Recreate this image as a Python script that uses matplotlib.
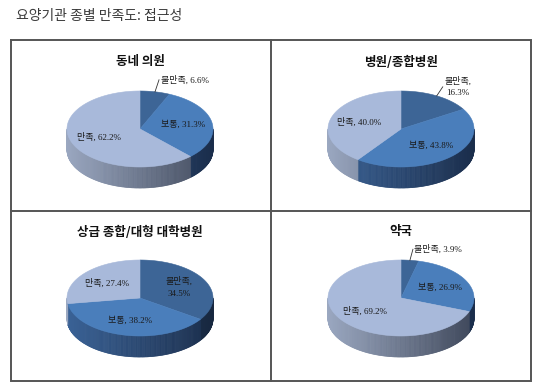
import numpy as np
import matplotlib
matplotlib.use('Agg')
import matplotlib.pyplot as plt
from matplotlib.patches import Polygon
from matplotlib.collections import PolyCollection
from matplotlib.colors import to_rgb

plt.rcParams['font.family'] = ['Noto Sans CJK KR', 'DejaVu Sans']

# ---------------- data ----------------
chart_title = '요양기관 종별 만족도: 접근성'
categories = ['불만족', '보통', '만족']
panel_titles = ['동네 의원', '병원/종합병원', '상급 종합/대형 대학병원', '약국']
clinic = [6.6, 31.3, 62.2]
hospital = [16.3, 43.8, 40.0]
tertiary = [34.5, 38.2, 27.4]
pharmacy = [3.9, 26.9, 69.2]

# ---------------- style ----------------
top_colors = ['#3D6596', '#4A7EBB', '#A8B9DA']
side_left = ['#34547F', '#3A6296', '#9AA7C0']
side_right = ['#17273F', '#1A2D4B', '#3E475A']
label_font = ['Liberation Serif', 'Noto Sans CJK KR']

W, H = 539, 387
fig = plt.figure(figsize=(W / 100, H / 100), dpi=100)
ax = fig.add_axes([0, 0, 1, 1])
ax.set_xlim(0, W)
ax.set_ylim(H, 0)
ax.axis('off')

# frame
L, T, R, B = 10.5, 40, 531, 381
VD, HD = 271, 211
fc = '#555555'
ax.plot([L, R, R, L, L], [T, T, B, B, T], color=fc, lw=1.4, solid_joinstyle='miter')
ax.plot([VD, VD], [T, B], color=fc, lw=1.4)
ax.plot([L, R], [HD, HD], color=fc, lw=1.4)

ax.text(16, 16, chart_title, fontsize=10, color='#3a3a3a', va='center', ha='left')

RX, RY, DEPTH = 73, 38, 21

# layout per panel: pie centre, title y, outside-label indices with leader vectors, wrapped labels
panels = [
    dict(vals=clinic, title=panel_titles[0], cx=140, cy=129, ty=62,
         outside={0: (4, -12)}, wrap=set()),
    dict(vals=hospital, title=panel_titles[1], cx=401, cy=129, ty=62,
         outside={0: (6, -9)}, wrap={0}),
    dict(vals=tertiary, title=panel_titles[2], cx=140, cy=298, ty=232,
         outside={}, wrap={0}),
    dict(vals=pharmacy, title=panel_titles[3], cx=401, cy=298, ty=232,
         outside={0: (3, -11)}, wrap=set()),
]


def pt(cx, cy, phi):
    r = np.radians(phi)
    return cx + RX * np.sin(r), cy - RY * np.cos(r)


for p in panels:
    vals = np.array(p['vals'], dtype=float)
    cx, cy = p['cx'], p['cy']
    fr = vals / vals.sum()
    edges = np.concatenate([[0], np.cumsum(fr)]) * 360.0

    # side walls
    for i in range(len(vals)):
        a, b = edges[i], edges[i + 1]
        lo, hi = max(a, 90.0), min(b, 270.0)
        if lo >= hi:
            continue
        n = max(2, int((hi - lo) / 1.0) + 1)
        phis = np.linspace(lo, hi, n)
        polys, cols = [], []
        cl, cr = np.array(to_rgb(side_left[i])), np.array(to_rgb(side_right[i]))
        for j in range(n - 1):
            x1, y1 = pt(cx, cy, phis[j])
            x2, y2 = pt(cx, cy, phis[j + 1])
            polys.append([(x1, y1), (x2, y2), (x2, y2 + DEPTH), (x1, y1 + DEPTH)])
            t = (0.5 * (x1 + x2) - (cx - RX)) / (2 * RX)
            t = min(max(t, 0), 1)
            cols.append(tuple(cl * (1 - t) + cr * t))
        ax.add_collection(PolyCollection(polys, facecolors=cols, edgecolors=cols, linewidths=0.5))

    # top face
    for i in range(len(vals)):
        a, b = edges[i], edges[i + 1]
        phis = np.linspace(a, b, max(3, int(b - a) + 2))
        xs, ys = pt(cx, cy, phis)
        verts = [(cx, cy)] + list(zip(xs, ys))
        ax.add_patch(Polygon(verts, closed=True, facecolor=top_colors[i],
                             edgecolor=top_colors[i], lw=0.4))

    # title
    ax.text(cx, p['ty'], p['title'], fontsize=9, fontweight='bold', color='#111111',
            ha='center', va='center')

    # labels
    for i in range(len(vals)):
        sep = '\n' if i in p['wrap'] else ' '
        txt = f'{categories[i]},{sep}{vals[i]:.1f}%'
        mid = 0.5 * (edges[i] + edges[i + 1])
        if i in p['outside']:
            ex, ey = pt(cx, cy, mid)
            dx, dy = p['outside'][i]
            ax.plot([ex, ex + dx], [ey, ey + dy], color='#333333', lw=0.6)
            ax.text(ex + dx + 1.5, ey + dy, txt, fontsize=6.5, family=label_font,
                    color='#1a1a1a', ha='left', va='center', multialignment='center',
                    linespacing=1.6)
        else:
            r = np.radians(mid)
            lx = cx + 0.6 * RX * np.sin(r)
            ly = cy - 0.6 * RY * np.cos(r)
            ax.text(lx, ly, txt, fontsize=6.5, family=label_font, color='#1a1a1a',
                    ha='center', va='center', multialignment='center', linespacing=1.6)

fig.savefig('out.png', dpi=100, facecolor='white')
